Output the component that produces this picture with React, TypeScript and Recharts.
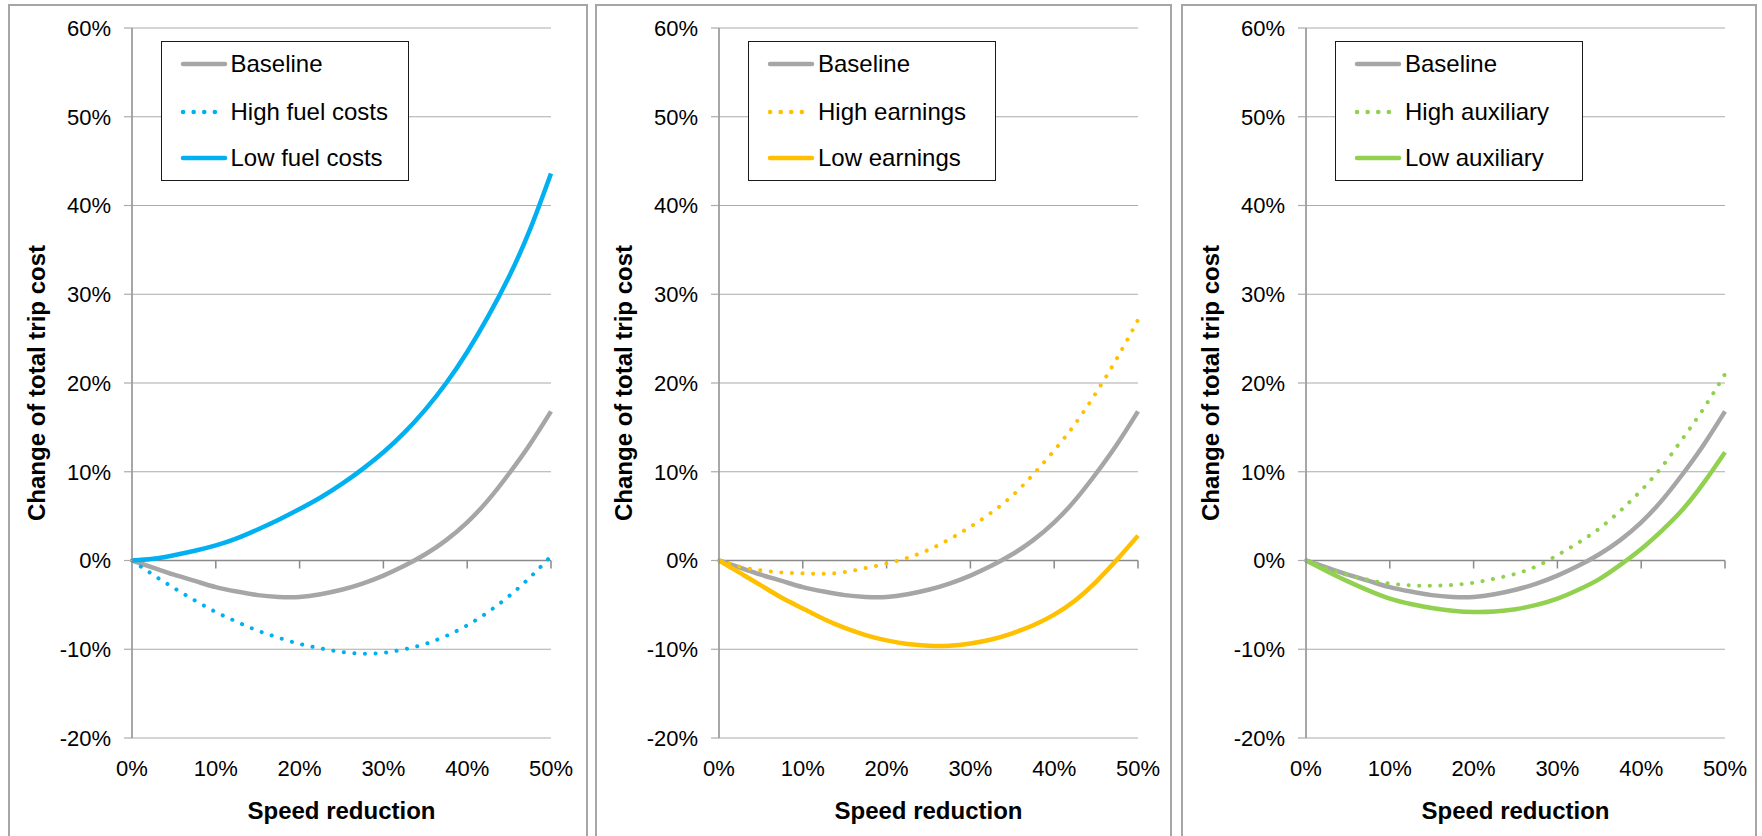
import { LineChart, Line, XAxis, YAxis, CartesianGrid, Legend, ReferenceLine } from 'recharts';

const FONT = '"Liberation Sans", Arial, Helvetica, sans-serif';

// speed reduction (%) and change of total trip cost (%)
const speedReduction = [0, 2.5, 5, 7.5, 10, 12.5, 15, 17.5, 20, 22.5, 25, 27.5, 30, 32.5, 35, 37.5, 40, 42.5, 45, 47.5, 50];
const baseline = [0, -0.8, -1.6, -2.3, -3.0, -3.5, -3.9, -4.1, -4.1, -3.8, -3.3, -2.6, -1.7, -0.6, 0.7, 2.3, 4.3, 6.8, 9.8, 13.1, 16.8];
const highFuel = [0, -1.6, -3.1, -4.5, -5.8, -6.9, -7.9, -8.7, -9.4, -9.9, -10.3, -10.5, -10.4, -10.0, -9.4, -8.5, -7.3, -5.8, -4.0, -1.9, 0.5];
const lowFuel = [0, 0.2, 0.6, 1.1, 1.7, 2.5, 3.5, 4.6, 5.8, 7.1, 8.6, 10.3, 12.2, 14.4, 17.0, 20.0, 23.5, 27.5, 32.0, 37.3, 43.6];
const highEarnings = [0, -0.7, -1.1, -1.35, -1.45, -1.5, -1.3, -0.85, -0.35, 0.3, 1.2, 2.4, 3.8, 5.4, 7.3, 9.7, 12.4, 15.4, 18.9, 22.8, 27.1];
const lowEarnings = [0, -1.4, -2.8, -4.2, -5.4, -6.6, -7.6, -8.4, -9.0, -9.4, -9.6, -9.6, -9.35, -8.9, -8.2, -7.3, -6.1, -4.5, -2.4, 0.1, 2.8];
const highAuxiliary = [0, -0.9, -1.6, -2.2, -2.6, -2.8, -2.85, -2.75, -2.5, -2.05, -1.5, -0.65, 0.6, 2.0, 3.6, 5.6, 7.9, 10.6, 13.8, 17.2, 21.0];
const lowAuxiliary = [0, -1.2, -2.35, -3.4, -4.3, -4.9, -5.35, -5.65, -5.8, -5.75, -5.5, -5.0, -4.3, -3.3, -2.1, -0.5, 1.3, 3.4, 5.8, 8.8, 12.2];

const xTicks = [0, 10, 20, 30, 40, 50];
const yTicks = [-20, -10, 0, 10, 20, 30, 40, 50, 60];

const scenarios = [
  { highName: 'High fuel costs', lowName: 'Low fuel costs', color: '#00b0f0', high: highFuel, low: lowFuel },
  { highName: 'High earnings', lowName: 'Low earnings', color: '#ffc000', high: highEarnings, low: lowEarnings },
  { highName: 'High auxiliary', lowName: 'Low auxiliary', color: '#92d050', high: highAuxiliary, low: lowAuxiliary },
];

const panelLayout = [
  { frameLeft: 8, frameWidth: 580, axisX: 131.5 },
  { frameLeft: 595, frameWidth: 577, axisX: 719 },
  { frameLeft: 1181, frameWidth: 576, axisX: 1306 },
];

const Y_AXIS_W = 125;
const CHART_W = 579;
const CHART_H = 836;
const GREY = '#a6a6a6';
const AXIS = '#8a8a8a';
const DOTTED = '0.1 10.5';

const pct = (v: number) => `${v}%`;

type Item = { name: string; color: string; dotted: boolean };

function LegendBox({ items }: { items: Item[] }) {
  const rowCenters = [22, 70, 116];
  return (
    <div
      style={{
        position: 'relative',
        width: 248,
        height: 140,
        boxSizing: 'border-box',
        border: '1.5px solid #1a1a1a',
        background: '#fff',
        fontFamily: FONT,
        fontSize: 24,
        color: '#000',
      }}
    >
      {items.map((it, i) => (
        <div
          key={it.name}
          style={{ position: 'absolute', left: 18, top: rowCenters[i] - 15, height: 30, display: 'flex', alignItems: 'center', whiteSpace: 'nowrap' }}
        >
          <svg width={48} height={10}>
            <line
              x1={3}
              y1={5}
              x2={45}
              y2={5}
              stroke={it.color}
              strokeWidth={4.5}
              strokeLinecap="round"
              strokeDasharray={it.dotted ? DOTTED : undefined}
            />
          </svg>
          <span style={{ marginLeft: 3 }}>{it.name}</span>
        </div>
      ))}
    </div>
  );
}

function ScenarioChart({ index }: { index: number }) {
  const s = scenarios[index];
  const layout = panelLayout[index];
  const data = speedReduction.map((x, i) => ({ x, baseline: baseline[i], high: s.high[i], low: s.low[i] }));
  const items: Item[] = [
    { name: 'Baseline', color: GREY, dotted: false },
    { name: s.highName, color: s.color, dotted: true },
    { name: s.lowName, color: s.color, dotted: false },
  ];
  const tickStyle = { fill: '#000', fontSize: 22, fontFamily: FONT };

  return (
    <div style={{ position: 'absolute', left: layout.axisX - Y_AXIS_W, top: 0 }}>
      <LineChart width={CHART_W} height={CHART_H} data={data} margin={{ top: 28, right: 35, bottom: 8, left: 0 }}>
        <CartesianGrid vertical={false} stroke="#ababab" strokeWidth={1.2} />
        <XAxis
          dataKey="x"
          type="number"
          domain={[0, 50]}
          ticks={xTicks}
          interval={0}
          tickFormatter={pct}
          axisLine={false}
          tickLine={false}
          tickSize={0}
          tickMargin={22}
          height={90}
          tick={tickStyle}
          label={{
            value: 'Speed reduction',
            position: 'insideBottom',
            offset: 9,
            fontSize: 24,
            fontWeight: 700,
            fill: '#000',
            fontFamily: FONT,
          }}
        />
        <YAxis
          type="number"
          domain={[-20, 60]}
          ticks={yTicks}
          interval={0}
          tickFormatter={pct}
          width={Y_AXIS_W}
          tickSize={8}
          tickMargin={13}
          axisLine={{ stroke: AXIS, strokeWidth: 1.5 }}
          tickLine={{ stroke: '#ababab', strokeWidth: 1.2 }}
          tick={tickStyle}
          label={{
            value: 'Change of total trip cost',
            angle: -90,
            position: 'insideLeft',
            offset: 29,
            fontSize: 24,
            fontWeight: 700,
            fill: '#000',
            fontFamily: FONT,
            style: { textAnchor: 'middle' },
          }}
        />
        {/* horizontal axis crosses at 0% with tick marks hanging below */}
        <ReferenceLine y={0} stroke={AXIS} strokeWidth={1.5} />
        {xTicks.slice(1).map((t) => (
          <ReferenceLine
            key={t}
            segment={[
              { x: t, y: 0 },
              { x: t, y: -0.9 },
            ]}
            stroke={AXIS}
            strokeWidth={1.5}
          />
        ))}
        <Legend
          layout="horizontal"
          verticalAlign="middle"
          align="center"
          wrapperStyle={{ left: Y_AXIS_W + 29, top: 41, width: 248, height: 140 }}
          content={() => <LegendBox items={items} />}
        />
        <Line
          type="natural"
          dataKey="baseline"
          name="Baseline"
          stroke={GREY}
          strokeWidth={4.5}
          dot={false}
          activeDot={false}
          isAnimationActive={false}
        />
        <Line
          type="natural"
          dataKey="high"
          name={s.highName}
          stroke={s.color}
          strokeWidth={4}
          strokeDasharray={DOTTED}
          strokeLinecap="round"
          dot={false}
          activeDot={false}
          isAnimationActive={false}
        />
        <Line
          type="natural"
          dataKey="low"
          name={s.lowName}
          stroke={s.color}
          strokeWidth={4.5}
          dot={false}
          activeDot={false}
          isAnimationActive={false}
        />
      </LineChart>
    </div>
  );
}

export default function App() {
  return (
    <div
      style={{
        position: 'absolute',
        left: 0,
        top: 0,
        width: 1762,
        height: 836,
        overflow: 'hidden',
        background: '#fff',
        fontFamily: FONT,
      }}
    >
      {panelLayout.map((p, i) => (
        <div
          key={`frame-${i}`}
          style={{
            position: 'absolute',
            left: p.frameLeft,
            top: 4,
            width: p.frameWidth,
            height: 900,
            boxSizing: 'border-box',
            border: `2.5px solid ${GREY}`,
          }}
        />
      ))}
      {scenarios.map((s, i) => (
        <ScenarioChart key={s.highName} index={i} />
      ))}
    </div>
  );
}
